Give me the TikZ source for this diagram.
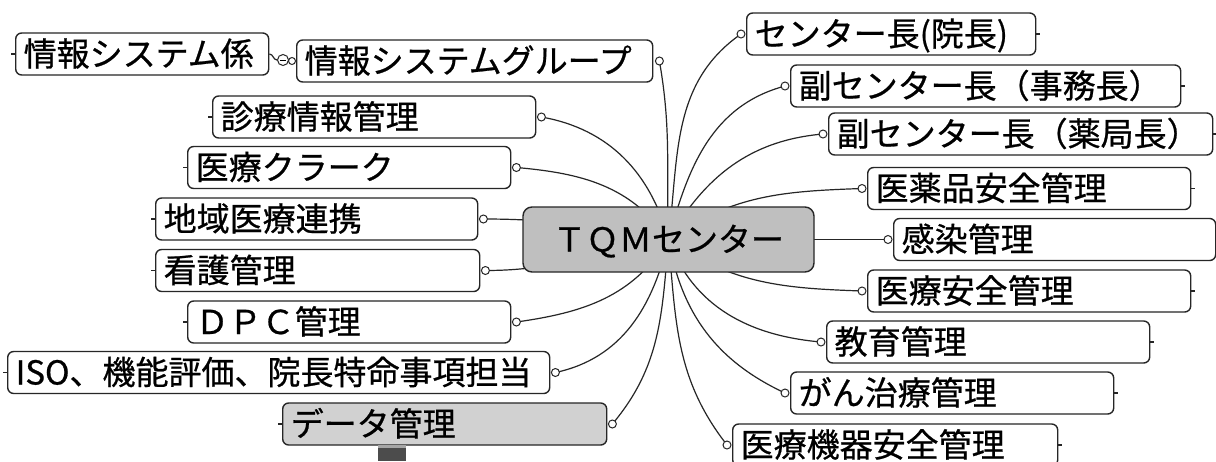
\documentclass[tikz,border=0pt]{standalone}
\usepackage{fontspec}
\setmainfont{Noto Sans CJK JP}[FakeBold=0.7]
\usetikzlibrary{backgrounds}
\begin{document}
\begin{tikzpicture}[x=1pt,y=1pt,
  bx/.style={draw=black!85, line width=1.4pt, rounded corners=6pt, anchor=west, align=left,
    minimum height=42pt, inner xsep=8pt, inner ysep=0pt, text height=28pt, text depth=4pt,
    font=\fontsize{33}{36}\selectfont},
  knob/.style={circle, draw=black!85, fill=white, line width=1pt, inner sep=0pt, minimum size=8pt},
  conn/.style={draw=black!85, line width=1.2pt},
  stub/.style={draw=black!85, line width=1.2pt}]
\useasboundingbox (0,0) rectangle (1216,-461);
\clip (0,0) rectangle (1216,-461);
\begin{scope}[on background layer]
\fill[white] (0,0) rectangle (1216,-461);
\end{scope}

% central topic
\node[draw=black!85, fill=black!25, rounded corners=9pt, line width=1.4pt, minimum width=291pt,
  minimum height=65pt, inner sep=0pt, text height=28pt, text depth=4pt,
  font=\fontsize{33}{36}\selectfont] (tqm) at (668.5,-239.5) {ＴＱＭセンター};

% left topics
\node[bx, text width=237pt] (kei) at (15,-54) {情報システム係};
\node[bx, text width=340pt] (grp) at (296,-61) {情報システムグループ};
\node[bx, text width=307pt] (shinryo) at (212,-117) {診療情報管理};
\node[bx, text width=307pt] (clerk) at (187,-167.5) {医療クラーク};
\node[bx, text width=306pt] (chiiki) at (155,-219) {地域医療連携};
\node[bx, text width=308pt] (kango) at (155,-270.5) {看護管理};
\node[bx, text width=307pt] (dpc) at (187,-322) {ＤＰＣ管理};
\node[bx, text width=526pt] (iso) at (7,-372.5) {ISO、機能評価、院長特命事項担当};
\node[bx, text width=308pt, fill=black!18] (data) at (282,-424) {データ管理};

% right topics
\node[bx, text width=273pt] (inchou) at (746,-34) {センター長(院長)};
\node[bx, text width=374pt] (jimu) at (790,-86) {副センター長（事務長）};
\node[bx, text width=368pt] (yaku) at (828,-134) {副センター長（薬局長）};
\node[bx, text width=307pt] (iyaku) at (867,-188.5) {医薬品安全管理};
\node[bx, text width=306pt] (kansen) at (893,-239.5) {感染管理};
\node[bx, text width=307pt] (anzen) at (867,-291) {医療安全管理};
\node[bx, text width=307pt] (kyoiku) at (826,-342) {教育管理};
\node[bx, text width=307pt] (gan) at (790,-393) {がん治療管理};
\node[bx, text width=309pt] (kiki) at (732,-445) {医療機器安全管理};

% knobs
\node[knob] (k-grp) at ([xshift=6pt]grp.east) {};
\node[knob] (k-shinryo) at ([xshift=5pt]shinryo.east) {};
\node[knob] (k-clerk) at ([xshift=5pt]clerk.east) {};
\node[knob] (k-chiiki) at ([xshift=5pt]chiiki.east) {};
\node[knob] (k-kango) at ([xshift=5pt]kango.east) {};
\node[knob] (k-dpc) at ([xshift=5pt]dpc.east) {};
\node[knob] (k-iso) at ([xshift=5pt]iso.east) {};
\node[knob] (k-data) at ([xshift=5pt]data.east) {};
\node[knob] (k-inchou) at ([xshift=-5pt]inchou.west) {};
\node[knob] (k-jimu) at ([xshift=-5pt]jimu.west) {};
\node[knob] (k-yaku) at ([xshift=-5pt]yaku.west) {};
\node[knob] (k-iyaku) at ([xshift=-5pt]iyaku.west) {};
\node[knob] (k-kansen) at ([xshift=-5pt]kansen.west) {};
\node[knob] (k-anzen) at ([xshift=-5pt]anzen.west) {};
\node[knob] (k-kyoiku) at ([xshift=-5pt]kyoiku.west) {};
\node[knob] (k-gan) at ([xshift=-5pt]gan.west) {};
\node[knob] (k-kiki) at ([xshift=-5pt]kiki.west) {};

% collapse marker between kei and grp
\node[knob, minimum size=7pt] (k-grpin) at ([xshift=-4pt]grp.west) {};
\node[circle, draw=black!85, fill=white, line width=1pt, inner sep=0pt, minimum size=11pt] (minus) at (283,-60) {};
\draw[line width=1pt] ([xshift=-2.8pt]minus.center) -- ([xshift=2.8pt]minus.center);
\draw[conn] (kei.east) to[out=0,in=180] (minus.west);

% stubs
\foreach \n in {kei,shinryo,clerk,chiiki,kango,dpc,iso,data}
  \draw[stub] (\n.west) -- ++(-4,0);
\foreach \n in {inchou,jimu,yaku,iyaku,kansen,anzen,kyoiku,gan,kiki}
  \draw[stub] (\n.east) -- ++(4,0);

% connectors
\begin{scope}[on background layer]
\draw[conn] (tqm.center) to[out=92,in=-80] (k-grp.center);
\draw[conn] (tqm.center) to[out=105,in=-10] (k-shinryo.center);
\draw[conn] (tqm.center) to[out=125,in=-5] (k-clerk.center);
\draw[conn] (tqm.center) to[out=170,in=0] (k-chiiki.center);
\draw[conn] (tqm.center) to[out=190,in=0] (k-kango.center);
\draw[conn] (tqm.center) to[out=-122,in=8] (k-dpc.center);
\draw[conn] (tqm.center) to[out=-103,in=12] (k-iso.center);
\draw[conn] (tqm.center) to[out=-95,in=50] (k-data.center);
\draw[conn] (tqm.center) to[out=-85,in=128] (k-kiki.center);
\draw[conn] (tqm.center) to[out=-80,in=155] (k-gan.center);
\draw[conn] (tqm.center) to[out=-70,in=175] (k-kyoiku.center);
\draw[conn] (tqm.center) to[out=-35,in=178] (k-anzen.center);
\draw[conn] (tqm.center) to[out=0,in=180] (k-kansen.center);
\draw[conn] (tqm.center) to[out=35,in=182] (k-iyaku.center);
\draw[conn] (tqm.center) to[out=60,in=185] (k-yaku.center);
\draw[conn] (tqm.center) to[out=75,in=195] (k-jimu.center);
\draw[conn] (tqm.center) to[out=83,in=215] (k-inchou.center);
\end{scope}

% scan fragment at the bottom
\fill[black!35] (378,-445) rectangle (406,-448);
\fill[black!70] (378,-448) rectangle (406,-461);
\end{tikzpicture}
\end{document}
